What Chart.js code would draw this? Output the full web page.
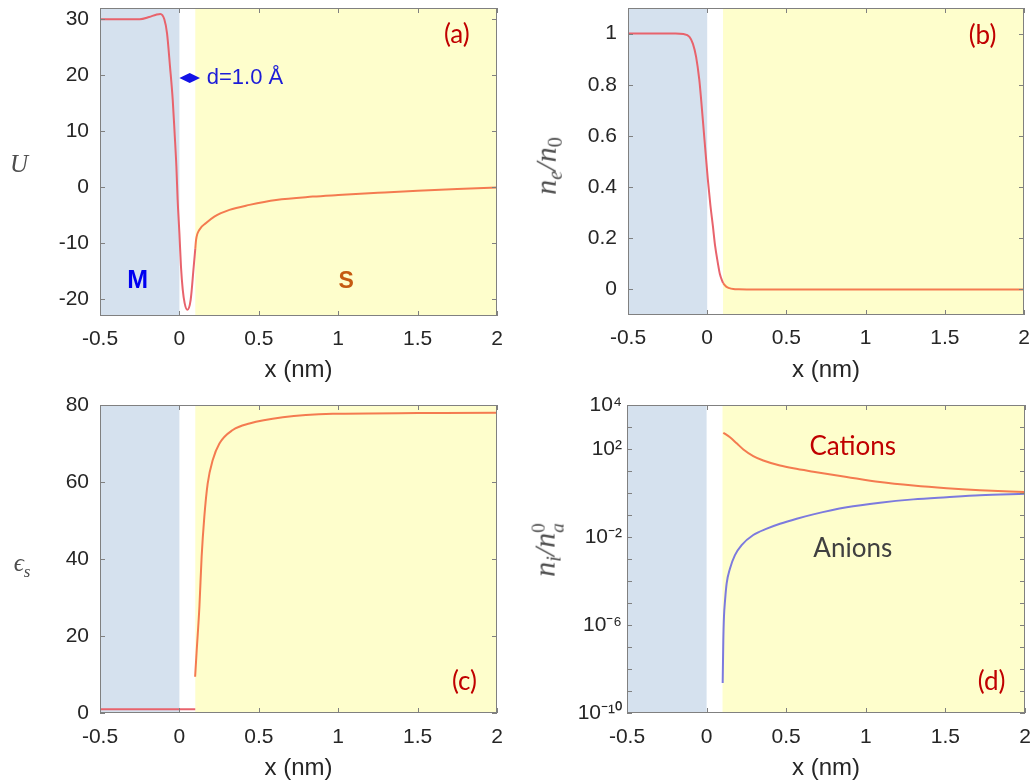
<!DOCTYPE html>
<html>
<head>
<meta charset="utf-8">
<script src="https://cdn.jsdelivr.net/npm/chart.js@4.4.1/dist/chart.umd.min.js"></script>
<style>
  html, body { margin: 0; padding: 0; background: #fff; }
  #wrap { position: relative; width: 1032px; height: 783px; overflow: hidden; }
  canvas { position: absolute; }
  .ylab {
    position: absolute;
    font-family: "Liberation Serif", "DejaVu Serif", serif;
    font-style: italic;
    font-size: 25px;
    color: #4d4d4d;
    white-space: nowrap;
    line-height: 1;
    transform: translate(-50%, -50%);
  }
  .ylab.rot { font-size: 30px; transform: translate(-50%, -50%) rotate(-90deg); }
  .ylab sub { font-size: 0.68em; vertical-align: -0.3em; }
  .stack { display: inline-block; vertical-align: -0.45em; font-size: 0.64em; line-height: 0.95; }
  .stack span { display: block; }
</style>
</head>
<body>
<div id="wrap">
  <canvas id="panelA" width="516" height="390" style="left:0;top:0"></canvas>
  <canvas id="panelB" width="516" height="390" style="left:516px;top:0"></canvas>
  <canvas id="panelC" width="516" height="393" style="left:0;top:390px"></canvas>
  <canvas id="panelD" width="516" height="393" style="left:516px;top:390px"></canvas>

  <div class="ylab" style="left:19px;top:163px">U</div>
  <div class="ylab rot" style="left:548px;top:166px">n<sub>e</sub>/n<sub style="font-style:normal">0</sub></div>
  <div class="ylab" style="left:22px;top:565px">ϵ<sub>s</sub></div>
  <div class="ylab rot" style="left:548px;top:550px">n<sub>i</sub>/n<span class="stack"><span style="font-style:normal">0</span><span>a</span></span></div>
</div>
<script>
// shared x axis and regions
const xTicks = [-0.5, 0, 0.5, 1, 1.5, 2];
const metalRegion = [-0.5, 0];
const solventRegion = [0.1, 2];

// (a) potential U
const xMetalA = [-0.5, -0.4, -0.3, -0.25, -0.19, -0.147, -0.12, -0.095, -0.078, -0.059, -0.042, -0.03, -0.019, -0.011, 0.0, 0.01, 0.021, 0.033, 0.05, 0.071, 0.09, 0.1];
const uMetal = [30.0, 30.0, 30.0, 30.0, 30.4, 30.8, 30.95, 30.0, 27.5, 21.5, 15.6, 9.6, 3.7, -2.3, -8.2, -14.2, -18.3, -20.7, -21.9, -20.1, -14.2, -11.0];
const xSolA = [0.1, 0.105, 0.126, 0.168, 0.22, 0.315, 0.441, 0.609, 0.84, 1.0, 1.25, 1.5, 1.75, 2.0];
const uSol = [-11.0, -9.4, -7.6, -6.4, -5.25, -4.05, -3.16, -2.27, -1.68, -1.4, -1.0, -0.62, -0.3, -0.07];
const uTicks = [-20, -10, 0, 10, 20, 30];

// (b) electron density ne/n0
const xMetalB = [-0.5, -0.3, -0.2, -0.15, -0.112, -0.09, -0.07, -0.05, -0.038, -0.017, 0.004, 0.02, 0.036, 0.05, 0.067, 0.08, 0.1];
const neMetal = [1.0, 1.0, 1.0, 0.998, 0.987, 0.96, 0.909, 0.82, 0.74, 0.584, 0.43, 0.33, 0.247, 0.17, 0.104, 0.06, 0.025];
const xSolB = [0.1, 0.12, 0.14, 0.165, 0.2, 0.3, 0.5, 1.0, 1.5, 2.0];
const neSol = [0.025, 0.011, 0.005, 0.002, 0.001, 0, 0, 0, 0, 0];
const neTicks = [0, 0.2, 0.4, 0.6, 0.8, 1];

// (c) permittivity eps_s
const xMetalC = [-0.5, 0.1];
const epsMetal = [1, 1];
const xSolC = [0.099, 0.109, 0.126, 0.14, 0.157, 0.178, 0.21, 0.252, 0.336, 0.441, 0.651, 0.966, 1.5, 2.0];
const epsSol = [9.4, 16.3, 27.6, 40.6, 51.0, 59.6, 65.7, 70.0, 73.5, 75.2, 76.8, 77.7, 77.9, 78.0];
const epsTicks = [0, 20, 40, 60, 80];

// (d) ion densities ni/na0
const xCat = [0.105, 0.147, 0.189, 0.231, 0.293, 0.356, 0.461, 0.545, 0.67, 0.88, 1.089, 1.298, 1.508, 1.717, 2.0];
const cations = [550, 339, 182, 95.5, 47.9, 30.2, 17.8, 13.2, 9.3, 5.37, 3.16, 2.19, 1.66, 1.35, 1.10];
const xAn = [0.101, 0.105, 0.109, 0.116, 0.126, 0.147, 0.178, 0.22, 0.293, 0.378, 0.461, 0.566, 0.67, 0.88, 1.089, 1.298, 1.508, 1.717, 2.0];
const anions = [2.3e-9, 2.0e-7, 2.3e-6, 1.35e-5, 7.8e-5, 3.7e-4, 1.5e-3, 4.3e-3, 1.23e-2, 2.4e-2, 4.0e-2, 6.8e-2, 0.107, 0.224, 0.363, 0.513, 0.646, 0.794, 0.93];
const niTicks = [1e-10, 1e-9, 1e-8, 1e-7, 1e-6, 1e-5, 1e-4, 1e-3, 1e-2, 1e-1, 1, 1e1, 1e2, 1e3, 1e4];
const niLabelExp = [4, 2, -2, -6, -10];

const metalBg = '#d5e1ee';
const solventBg = '#fefecc';
const redLine = '#e8636c';
const orangeLine = '#f47b50';
const blueLine = '#7c7ade';
const tickColor = '#262626';
const boxColor = '#808080';
const tickFont = { family: '"Liberation Sans", Arial, sans-serif', size: 21 };
const titleFont = { family: '"Liberation Sans", Arial, sans-serif', size: 24 };

const supDigits = { '0': '⁰', '1': '¹', '2': '²', '3': '³', '4': '⁴', '5': '⁵', '6': '⁶', '7': '⁷', '8': '⁸', '9': '⁹', '-': '⁻' };

function powLabel(v) {
    const e = Math.round(Math.log10(v));
    if (!niLabelExp.includes(e)) return '';
    return '10' + String(e).split('').map(c => supDigits[c]).join('');
}

function pts(xs, ys) {
    return xs.map((x, i) => ({ x: x, y: ys[i] }));
}

function line(xs, ys, color) {
    return {
        data: pts(xs, ys),
        borderColor: color,
        borderWidth: 2,
        pointRadius: 0,
        showLine: true,
        fill: false,
        cubicInterpolationMode: 'monotone'
    };
}

// scale boxes sized by hand so every plot area lands where the figure has it
function fixSize(key, size) {
    return function (scale) {
        scale[key] = size;
        scale.paddingTop = 0;
        scale.paddingBottom = 0;
        scale.paddingLeft = 0;
        scale.paddingRight = 0;
    };
}

const panelPlugin = {
    id: 'panel',
    beforeDatasetsDraw(chart) {
        const { ctx, chartArea: a, scales: { x } } = chart;
        ctx.save();
        let x0 = x.getPixelForValue(metalRegion[0]);
        let x1 = x.getPixelForValue(metalRegion[1]);
        ctx.fillStyle = metalBg;
        ctx.fillRect(x0, a.top, x1 - x0, a.height);
        x0 = x.getPixelForValue(solventRegion[0]);
        x1 = x.getPixelForValue(solventRegion[1]);
        ctx.fillStyle = solventBg;
        ctx.fillRect(x0, a.top, x1 - x0, a.height);
        ctx.restore();
    },
    afterDatasetsDraw(chart, args, opts) {
        const { ctx, chartArea: a, scales: { x, y } } = chart;
        ctx.save();
        // box with inward ticks on all sides
        ctx.strokeStyle = boxColor;
        ctx.lineWidth = 1;
        ctx.strokeRect(Math.round(a.left) + 0.5, Math.round(a.top) + 0.5, Math.round(a.width) - 1, Math.round(a.height) - 1);
        ctx.beginPath();
        x.ticks.forEach(t => {
            const px = Math.round(x.getPixelForValue(t.value)) + 0.5;
            ctx.moveTo(px, a.bottom); ctx.lineTo(px, a.bottom - 5);
            ctx.moveTo(px, a.top); ctx.lineTo(px, a.top + 5);
        });
        y.ticks.forEach(t => {
            const py = Math.round(y.getPixelForValue(t.value)) + 0.5;
            ctx.moveTo(a.left, py); ctx.lineTo(a.left + 5, py);
            ctx.moveTo(a.right, py); ctx.lineTo(a.right - 5, py);
        });
        ctx.stroke();

        if (opts.arrow) {
            const ar = opts.arrow;
            const ax0 = x.getPixelForValue(ar.from);
            const ax1 = x.getPixelForValue(ar.to);
            const ay = y.getPixelForValue(ar.y);
            const mid = (ax0 + ax1) / 2;
            ctx.fillStyle = ar.color;
            ctx.beginPath();
            ctx.moveTo(ax0, ay);
            ctx.lineTo(mid, ay - 5);
            ctx.lineTo(ax1, ay);
            ctx.lineTo(mid, ay + 5);
            ctx.closePath();
            ctx.fill();
        }

        (opts.notes || []).forEach(n => {
            ctx.font = n.font;
            ctx.fillStyle = n.color;
            ctx.textAlign = n.align || 'center';
            ctx.textBaseline = 'middle';
            ctx.fillText(n.text, x.getPixelForValue(n.x), y.getPixelForValue(n.y));
        });
        ctx.restore();
    }
};

function makePanel(id, cfg) {
    return new Chart(document.getElementById(id), {
        type: 'scatter',
        data: { datasets: cfg.datasets },
        options: {
            responsive: false,
            animation: false,
            devicePixelRatio: 1,
            layout: { padding: { top: cfg.top, right: cfg.right, left: 0, bottom: 0 } },
            plugins: {
                legend: { display: false },
                tooltip: { enabled: false },
                panel: { notes: cfg.notes, arrow: cfg.arrow }
            },
            scales: {
                x: {
                    type: 'linear',
                    min: -0.5,
                    max: 2,
                    grid: { display: false, drawTicks: false },
                    border: { display: false },
                    afterBuildTicks: s => { s.ticks = xTicks.map(v => ({ value: v })); },
                    afterFit: fixSize('height', cfg.xHeight),
                    ticks: { padding: cfg.xPad, color: tickColor, font: tickFont, maxRotation: 0, autoSkip: false, callback: v => String(v) },
                    title: { display: true, text: 'x (nm)', color: tickColor, font: titleFont, padding: { top: 0, bottom: cfg.titlePad } }
                },
                y: {
                    type: cfg.yType || 'linear',
                    min: cfg.yMin,
                    max: cfg.yMax,
                    grid: { display: false, drawTicks: false },
                    border: { display: false },
                    afterBuildTicks: s => { s.ticks = cfg.yTicks.map(v => ({ value: v })); },
                    afterFit: fixSize('width', cfg.yWidth),
                    ticks: { padding: cfg.yPad, color: tickColor, font: tickFont, autoSkip: false, callback: cfg.yLabel || (v => String(v)) }
                }
            }
        },
        plugins: [panelPlugin]
    });
}

const panelLabelFont = '26px Lato, "Open Sans", sans-serif';
const darkRed = '#c00000';

makePanel('panelA', {
    datasets: [line(xMetalA, uMetal, redLine), line(xSolA, uSol, orangeLine)],
    yMin: -23, yMax: 32, yTicks: uTicks,
    top: 8, right: 19, yWidth: 100, yPad: 11, xHeight: 74, xPad: 10.5, titlePad: 5,
    arrow: { from: 0, to: 0.13, y: 19.5, color: '#1212e6' },
    notes: [
        { text: '(a)', x: 1.747, y: 27.2, color: darkRed, font: panelLabelFont },
        { text: 'M', x: -0.263, y: -16.8, color: '#0000f0', font: 'bold 25px "Liberation Sans", Arial, sans-serif' },
        { text: 'S', x: 1.05, y: -16.8, color: '#c55a11', font: 'bold 23px "Liberation Sans", Arial, sans-serif' },
        { text: 'd=1.0 Å', x: 0.172, y: 19.5, align: 'left', color: '#1c1cd8', font: '22px "Liberation Sans", Arial, sans-serif' }
    ]
});

makePanel('panelB', {
    datasets: [line(xMetalB, neMetal, redLine), line(xSolB, neSol, orangeLine)],
    yMin: -0.1, yMax: 1.1, yTicks: neTicks,
    top: 8, right: 8, yWidth: 112, yPad: 11, xHeight: 75, xPad: 10.5, titlePad: 5,
    notes: [
        { text: '(b)', x: 1.738, y: 0.993, color: darkRed, font: panelLabelFont }
    ]
});

makePanel('panelC', {
    datasets: [line(xMetalC, epsMetal, redLine), line(xSolC, epsSol, orangeLine)],
    yMin: 0, yMax: 80, yTicks: epsTicks,
    top: 15, right: 19, yWidth: 100, yPad: 11, xHeight: 70, xPad: 11.4, titlePad: 0.5,
    notes: [
        { text: '(c)', x: 1.795, y: 8.06, color: darkRed, font: panelLabelFont }
    ]
});

makePanel('panelD', {
    datasets: [line(xCat, cations, orangeLine), line(xAn, anions, blueLine)],
    yType: 'logarithmic', yMin: 1e-10, yMax: 1e4, yTicks: niTicks, yLabel: powLabel,
    top: 15, right: 7, yWidth: 111, yPad: 5, xHeight: 70, xPad: 11.4, titlePad: 0.5,
    notes: [
        { text: '(d)', x: 1.79, y: 2.6e-9, color: darkRed, font: panelLabelFont },
        { text: 'Cations', x: 0.918, y: 126, color: darkRed, font: panelLabelFont },
        { text: 'Anions', x: 0.918, y: 3.0e-3, color: '#404040', font: panelLabelFont }
    ]
});
</script>
</body>
</html>
